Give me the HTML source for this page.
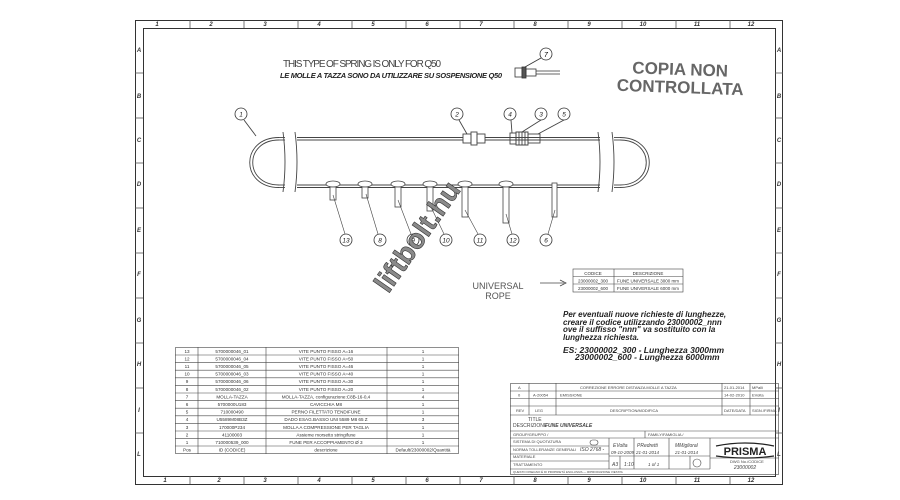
<!DOCTYPE html>
<html><head><meta charset="utf-8"><style>
html,body{margin:0;padding:0;background:#fff;}
svg{display:block;font-family:"Liberation Sans",sans-serif;}
</style></head><body>
<svg width="900" height="500" viewBox="0 0 900 500" xmlns="http://www.w3.org/2000/svg">
<rect width="900" height="500" fill="#fff"/>
<!-- frame -->
<rect x="135.5" y="20.5" width="647" height="464" fill="none" stroke="#333" stroke-width="1"/>
<rect x="143.5" y="28.5" width="632" height="448" fill="none" stroke="#333" stroke-width="1"/>
<g stroke="#555" stroke-width="0.8">
<line x1="190" y1="20" x2="190" y2="28"/><line x1="244" y1="20" x2="244" y2="28"/><line x1="298" y1="20" x2="298" y2="28"/><line x1="352" y1="20" x2="352" y2="28"/><line x1="406" y1="20" x2="406" y2="28"/><line x1="460" y1="20" x2="460" y2="28"/><line x1="514" y1="20" x2="514" y2="28"/><line x1="568" y1="20" x2="568" y2="28"/><line x1="622" y1="20" x2="622" y2="28"/><line x1="676" y1="20" x2="676" y2="28"/><line x1="730" y1="20" x2="730" y2="28"/>
<line x1="190" y1="476" x2="190" y2="484"/><line x1="244" y1="476" x2="244" y2="484"/><line x1="298" y1="476" x2="298" y2="484"/><line x1="352" y1="476" x2="352" y2="484"/><line x1="406" y1="476" x2="406" y2="484"/><line x1="460" y1="476" x2="460" y2="484"/><line x1="514" y1="476" x2="514" y2="484"/><line x1="568" y1="476" x2="568" y2="484"/><line x1="622" y1="476" x2="622" y2="484"/><line x1="676" y1="476" x2="676" y2="484"/><line x1="730" y1="476" x2="730" y2="484"/>
<line x1="135" y1="73" x2="143" y2="73"/><line x1="135" y1="118" x2="143" y2="118"/><line x1="135" y1="163" x2="143" y2="163"/><line x1="135" y1="208" x2="143" y2="208"/><line x1="135" y1="253" x2="143" y2="253"/><line x1="135" y1="298" x2="143" y2="298"/><line x1="135" y1="343" x2="143" y2="343"/><line x1="135" y1="388" x2="143" y2="388"/><line x1="135" y1="433" x2="143" y2="433"/>
<line x1="775" y1="73" x2="783" y2="73"/><line x1="775" y1="118" x2="783" y2="118"/><line x1="775" y1="163" x2="783" y2="163"/><line x1="775" y1="208" x2="783" y2="208"/><line x1="775" y1="253" x2="783" y2="253"/><line x1="775" y1="298" x2="783" y2="298"/><line x1="775" y1="343" x2="783" y2="343"/><line x1="775" y1="388" x2="783" y2="388"/><line x1="775" y1="433" x2="783" y2="433"/>
</g>
<g font-size="6" font-style="italic" font-weight="bold" fill="#333" text-anchor="middle">
<text x="157" y="26">1</text><text x="211" y="26">2</text><text x="265" y="26">3</text><text x="319" y="26">4</text><text x="373" y="26">5</text><text x="427" y="26">6</text><text x="481" y="26">7</text><text x="535" y="26">8</text><text x="589" y="26">9</text><text x="643" y="26">10</text><text x="697" y="26">11</text><text x="751" y="26">12</text>
<text x="165" y="482">1</text><text x="219" y="482">2</text><text x="265" y="482">3</text><text x="319" y="482">4</text><text x="373" y="482">5</text><text x="427" y="482">6</text><text x="481" y="482">7</text><text x="535" y="482">8</text><text x="589" y="482">9</text><text x="643" y="482">10</text><text x="697" y="482">11</text><text x="751" y="482">12</text>
<text x="139" y="52">A</text><text x="139" y="98">B</text><text x="139" y="142">C</text><text x="139" y="186">D</text><text x="139" y="232">E</text><text x="139" y="276">F</text><text x="139" y="322">G</text><text x="139" y="366">H</text><text x="139" y="412">I</text><text x="139" y="456">L</text>
<text x="779" y="52">A</text><text x="779" y="98">B</text><text x="779" y="142">C</text><text x="779" y="186">D</text><text x="779" y="232">E</text><text x="779" y="276">F</text><text x="779" y="322">G</text><text x="779" y="366">H</text><text x="779" y="412">I</text><text x="779" y="456">L</text>
</g>
<!-- notes -->
<text x="283" y="67" font-size="10" fill="#444" textLength="158" lengthAdjust="spacing">THIS TYPE OF SPRING IS ONLY FOR Q50</text>
<text x="280" y="78" font-size="7.5" font-weight="bold" font-style="italic" fill="#222" textLength="222">LE MOLLE A TAZZA SONO DA UTILIZZARE SU SOSPENSIONE Q50</text>
<text x="680" y="75" font-size="17" font-weight="bold" fill="#666" text-anchor="middle" transform="rotate(2 680 75)">COPIA NON</text>
<text x="680" y="93" font-size="17" font-weight="bold" fill="#666" text-anchor="middle" transform="rotate(2 680 93)">CONTROLLATA</text>
<!-- part 7 -->
<g stroke="#333" stroke-width="0.8" fill="none">
<rect x="515" y="68" width="7" height="9"/><rect x="522" y="67" width="4" height="11" fill="#555"/><rect x="526" y="69" width="10" height="7"/><line x1="536" y1="71" x2="560" y2="71"/><line x1="536" y1="74" x2="560" y2="74"/>
<line x1="525" y1="67" x2="541" y2="58"/><circle cx="546" cy="54" r="6" fill="#fff"/>
</g>
<text x="546" y="57" font-size="7" text-anchor="middle" font-style="italic">7</text>
<!-- cable -->
<g stroke="#444" stroke-width="0.9" fill="none">
<line x1="279" y1="137.5" x2="285" y2="137.5"/><line x1="279" y1="140" x2="285" y2="140"/>
<line x1="297" y1="137.5" x2="463" y2="137.5"/><line x1="297" y1="140" x2="463" y2="140"/>
<line x1="485" y1="137.5" x2="600" y2="137.5"/><line x1="485" y1="140" x2="600" y2="140"/>
<line x1="614" y1="137.5" x2="620" y2="137.5"/><line x1="614" y1="140" x2="620" y2="140"/>
<line x1="279" y1="185" x2="285" y2="185"/><line x1="279" y1="187.5" x2="285" y2="187.5"/>
<line x1="297" y1="185" x2="600" y2="185"/><line x1="297" y1="187.5" x2="600" y2="187.5"/>
<line x1="614" y1="185" x2="620" y2="185"/><line x1="614" y1="187.5" x2="620" y2="187.5"/>
<path d="M279 137.5 C240 137.5 240 187.5 279 187.5"/><path d="M279 140 C244 140 244 185 279 185"/>
<path d="M620 137.5 C659 137.5 659 187.5 620 187.5"/><path d="M620 140 C655 140 655 185 620 185"/>
<path d="M283 132 Q287 162 283 192"/><path d="M295 132 Q299 162 295 192"/>
<path d="M598 132 Q602 162 598 192"/><path d="M612 132 Q616 162 612 192"/>
<rect x="463" y="134" width="8" height="9"/><rect x="471" y="132" width="6" height="13"/><rect x="477" y="134" width="8" height="9"/>
<rect x="510" y="133" width="6" height="11"/><path d="M516 132 h12 v13 h-12 z"/><line x1="519" y1="132" x2="519" y2="145"/><line x1="522" y1="132" x2="522" y2="145"/><line x1="525" y1="132" x2="525" y2="145"/>
<rect x="528" y="134" width="12" height="9"/>
<line x1="244" y1="120" x2="256" y2="136"/><line x1="459" y1="120" x2="467" y2="134"/><line x1="511" y1="120" x2="512" y2="133"/><line x1="541" y1="120" x2="522" y2="132"/><line x1="564" y1="120" x2="538" y2="134"/>
</g>
<g stroke="#333" stroke-width="0.8" fill="#fff">
<circle cx="241" cy="114" r="6"/><circle cx="457" cy="114" r="6"/><circle cx="510" cy="114" r="6"/><circle cx="541" cy="114" r="6"/><circle cx="564" cy="114" r="6"/>
<circle cx="346" cy="240" r="6"/><circle cx="380" cy="240" r="6"/><circle cx="413" cy="240" r="6"/><circle cx="446" cy="240" r="6"/><circle cx="480" cy="240" r="6"/><circle cx="513" cy="240" r="6"/><circle cx="546" cy="240" r="6"/>
</g>
<g font-size="6.5" font-style="italic" text-anchor="middle" fill="#222">
<text x="241" y="116.5">1</text><text x="457" y="116.5">2</text><text x="510" y="116.5">4</text><text x="541" y="116.5">3</text><text x="564" y="116.5">5</text>
<text x="346" y="242.5">13</text><text x="380" y="242.5">8</text><text x="413" y="242.5">9</text><text x="446" y="242.5">10</text><text x="480" y="242.5">11</text><text x="513" y="242.5">12</text><text x="546" y="242.5">6</text>
</g>
<g stroke="#444" stroke-width="0.8" fill="#fff">
<ellipse cx="333" cy="184" rx="7" ry="3"/><rect x="330" y="187" width="6" height="13"/>
<ellipse cx="365" cy="184" rx="7" ry="3"/><rect x="362" y="187" width="6" height="11"/>
<ellipse cx="398" cy="184" rx="7" ry="3"/><rect x="395" y="187" width="6" height="20"/>
<ellipse cx="430" cy="184" rx="7" ry="3"/><rect x="427" y="187" width="6" height="24"/>
<ellipse cx="465" cy="184" rx="7" ry="3"/><rect x="462" y="187" width="6" height="30"/>
<ellipse cx="506" cy="184" rx="7" ry="3"/><rect x="503" y="187" width="6" height="36"/>
<rect x="552" y="183" width="5" height="34"/>
</g>
<g stroke="#444" stroke-width="0.6">
<line x1="333" y1="195" x2="345" y2="234"/><line x1="366" y1="194" x2="378" y2="234"/><line x1="398" y1="200" x2="411" y2="234"/><line x1="430" y1="205" x2="444" y2="234"/><line x1="465" y1="210" x2="478" y2="234"/><line x1="506" y1="214" x2="512" y2="234"/><line x1="555" y1="210" x2="548" y2="234"/>
</g>
<!-- watermark -->
<text x="425" y="242" font-size="28" font-weight="bold" fill="#8a8a8a" stroke="#333" stroke-width="0.6" text-anchor="middle" transform="rotate(-55 425 242)">liftbolt.hu</text>
<!-- universal rope -->
<text x="498" y="289" font-size="9" fill="#555" text-anchor="middle">UNIVERSAL</text>
<text x="498" y="299" font-size="9" fill="#555" text-anchor="middle">ROPE</text>
<line x1="540" y1="283" x2="564" y2="283" stroke="#444" stroke-width="0.8"/><path d="M560 280 L566 283 L560 286" fill="none" stroke="#444" stroke-width="0.8"/>
<g stroke="#444" stroke-width="0.6" fill="none">
<rect x="573" y="269" width="110" height="23"/><line x1="573" y1="276.5" x2="683" y2="276.5"/><line x1="573" y1="284" x2="683" y2="284"/><line x1="614" y1="269" x2="614" y2="292"/>
</g>
<g font-size="4.5" fill="#333" text-anchor="middle">
<text x="593" y="275">CODICE</text><text x="648" y="275">DESCRIZIONE</text>
<text x="593" y="282.5">23000002_300</text><text x="648" y="282.5">FUNE UNIVERSALE 3000 mm</text>
<text x="593" y="290">23000002_600</text><text x="648" y="290">FUNE UNIVERSALE 6000 mm</text>
</g>
<g font-size="8" font-weight="bold" font-style="italic" fill="#222">
<text x="563" y="317">Per eventuali nuove richieste di lunghezze,</text>
<text x="563" y="325">creare il codice utilizzando 23000002_nnn</text>
<text x="563" y="332">ove il suffisso "nnn" va sostituito con la</text>
<text x="563" y="340">lunghezza richiesta.</text>
<text x="563" y="353" font-size="8.5">ES: 23000002_300 - Lunghezza 3000mm</text>
<text x="575" y="360" font-size="8.5">23000002_600 - Lunghezza 6000mm</text>
</g>
<!-- BOM table -->
<g stroke="#444" stroke-width="0.6" fill="none">
<rect x="175.5" y="347.5" width="283" height="106"/>
<line x1="198" y1="347" x2="198" y2="454"/><line x1="266" y1="347" x2="266" y2="454"/><line x1="387" y1="347" x2="387" y2="454"/>
<line x1="175" y1="355" x2="459" y2="355"/><line x1="175" y1="362.6" x2="459" y2="362.6"/><line x1="175" y1="370.2" x2="459" y2="370.2"/><line x1="175" y1="377.8" x2="459" y2="377.8"/><line x1="175" y1="385.4" x2="459" y2="385.4"/><line x1="175" y1="393" x2="459" y2="393"/><line x1="175" y1="400.6" x2="459" y2="400.6"/><line x1="175" y1="408.2" x2="459" y2="408.2"/><line x1="175" y1="415.8" x2="459" y2="415.8"/><line x1="175" y1="423.4" x2="459" y2="423.4"/><line x1="175" y1="431" x2="459" y2="431"/><line x1="175" y1="438.6" x2="459" y2="438.6"/><line x1="175" y1="446" x2="459" y2="446"/>
</g>
<g font-size="4.6" fill="#333" text-anchor="middle">
<text x="187" y="353">13</text><text x="232" y="353">5700000046_01</text><text x="326" y="353">VITE PUNTO FISSO A=16</text><text x="423" y="353">1</text>
<text x="187" y="360.5">12</text><text x="232" y="360.5">5700000046_04</text><text x="326" y="360.5">VITE PUNTO FISSO A=50</text><text x="423" y="360.5">1</text>
<text x="187" y="368">11</text><text x="232" y="368">5700000046_05</text><text x="326" y="368">VITE PUNTO FISSO A=46</text><text x="423" y="368">1</text>
<text x="187" y="375.6">10</text><text x="232" y="375.6">5700000046_03</text><text x="326" y="375.6">VITE PUNTO FISSO A=40</text><text x="423" y="375.6">1</text>
<text x="187" y="383.2">9</text><text x="232" y="383.2">5700000046_06</text><text x="326" y="383.2">VITE PUNTO FISSO A=30</text><text x="423" y="383.2">1</text>
<text x="187" y="390.8">8</text><text x="232" y="390.8">5700000046_02</text><text x="326" y="390.8">VITE PUNTO FISSO A=20</text><text x="423" y="390.8">1</text>
<text x="187" y="398.4">7</text><text x="232" y="398.4">MOLLA-TAZZA</text><text x="326" y="398.4">MOLLA-TAZZA, configurazione:C8B-16-0,4</text><text x="423" y="398.4">4</text>
<text x="187" y="406">6</text><text x="232" y="406">5700000U183</text><text x="326" y="406">CAVICCHIA M8</text><text x="423" y="406">1</text>
<text x="187" y="413.6">5</text><text x="232" y="413.6">710000490</text><text x="326" y="413.6">PERNO FILETTATO TENDIFUNE</text><text x="423" y="413.6">1</text>
<text x="187" y="421.2">4</text><text x="232" y="421.2">U5589M08B3Z</text><text x="326" y="421.2">DADO ESAG.BASSO UNI 5589 M8 65 Z</text><text x="423" y="421.2">3</text>
<text x="187" y="428.8">3</text><text x="232" y="428.8">170000P234</text><text x="326" y="428.8">MOLLA A COMPRESSIONE PER TAGLIA</text><text x="423" y="428.8">1</text>
<text x="187" y="436.4">2</text><text x="232" y="436.4">41100003</text><text x="326" y="436.4">Assieme morsetto stringifune</text><text x="423" y="436.4">1</text>
<text x="187" y="444">1</text><text x="232" y="444">710000539_000</text><text x="326" y="444">FUNE PER ACCOPPIAMENTO Ø 3</text><text x="423" y="444">1</text>
<text x="187" y="451.5">Pos</text><text x="232" y="451.5">ID (CODICE)</text><text x="326" y="451.5">descrizione</text><text x="423" y="451.5">Default/23000002/Quantità</text>
</g>
<!-- title block -->
<g stroke="#444" stroke-width="0.6" fill="none">
<rect x="510.5" y="383.5" width="268" height="91"/>
<line x1="510" y1="391" x2="779" y2="391"/><line x1="510" y1="398.5" x2="779" y2="398.5"/><line x1="510" y1="406" x2="779" y2="406"/><line x1="510" y1="415" x2="779" y2="415"/><line x1="510" y1="431" x2="779" y2="431"/><line x1="510" y1="438" x2="779" y2="438"/>
<line x1="529" y1="383" x2="529" y2="415"/><line x1="556" y1="383" x2="556" y2="415"/><line x1="722" y1="383" x2="722" y2="415"/><line x1="750" y1="383" x2="750" y2="415"/>
<line x1="645" y1="431" x2="645" y2="438"/>
<line x1="609" y1="438" x2="609" y2="469"/><line x1="634" y1="438" x2="634" y2="469"/><line x1="669" y1="438" x2="669" y2="469"/><line x1="710" y1="438" x2="710" y2="469"/>
<line x1="609" y1="456" x2="710" y2="456"/><line x1="710" y1="458" x2="779" y2="458"/>
<line x1="510" y1="446" x2="609" y2="446"/><line x1="510" y1="454" x2="609" y2="454"/><line x1="510" y1="461" x2="609" y2="461"/><line x1="510" y1="469" x2="710" y2="469"/>
<line x1="620" y1="456" x2="620" y2="469"/><line x1="690" y1="456" x2="690" y2="469"/>
<rect x="590" y="440" width="8" height="5" rx="2.5"/>
<circle cx="697" cy="463" r="4"/>
</g>
<g font-size="4" fill="#444">
<text x="518" y="389">A</text><text x="580" y="389">CORREZIONE ERRORE DISTANZA MOLLE A TAZZA</text><text x="724" y="389">21-01-2014</text><text x="752" y="389">MPalli</text>
<text x="518" y="396.5">0</text><text x="533" y="396.5">A-20054</text><text x="560" y="396.5">EMISSIONE</text><text x="724" y="396.5">14-02-2010</text><text x="752" y="396.5">EVolta</text>
<text x="516" y="412">REV</text><text x="535" y="412">LEG</text><text x="610" y="412">DESCRIPTION/MODIFICA</text><text x="724" y="412">DATE/DATA</text><text x="752" y="412">SIGN./FIRMA</text>
<text x="528" y="421" font-size="5">TITLE</text><text x="513" y="427" font-size="5">DESCRIZIONE</text><text x="545" y="427" font-size="5" font-style="italic" font-weight="bold">FUNE UNIVERSALE</text>
<text x="513" y="436">GROUP/GRUPPO /</text><text x="648" y="436">FAMILY/FAMIGLIA /</text>
<text x="513" y="443">SISTEMA DI QUOTATURA</text><text x="513" y="451">NORMA TOLLERANZE GENERALI</text><text x="580" y="451" font-size="5" font-style="italic">ISO 2768 -</text>
<text x="513" y="458">MATERIALE</text><text x="513" y="466">TRATTAMENTO</text>
<text x="613" y="447" font-size="5" font-style="italic">EVolta</text><text x="637" y="447" font-size="5" font-style="italic">PRedretti</text><text x="675" y="447" font-size="5" font-style="italic">MMiglioral</text>
<text x="611" y="454" font-size="4.5" font-style="italic">09-10-2009</text><text x="636" y="454" font-size="4.5" font-style="italic">21-01-2014</text><text x="675" y="454" font-size="4.5" font-style="italic">21-01-2014</text>
<text x="612" y="466" font-size="5" font-style="italic">A3</text><text x="624" y="466" font-size="5" font-style="italic">1:10</text><text x="648" y="466" font-size="4.5" font-style="italic">1 of 1</text>
<text x="730" y="463">DWG No./CODICE</text><text x="745" y="469" font-size="5" font-style="italic" text-anchor="middle">23000002</text>
<text x="513" y="473" font-size="3">QUESTO DISEGNO È DI PROPRIETÀ ESCLUSIVA — RIPRODUZIONE VIETATA</text>
</g>
<path d="M716 446 Q745 440 774 446" stroke="#222" stroke-width="1.2" fill="none"/>
<path d="M716 456 Q745 460 774 456" stroke="#222" stroke-width="1.2" fill="none"/>
<text x="745" y="455" font-size="11" font-weight="bold" fill="#222" text-anchor="middle">PRISMA</text>
</svg>
</body></html>
